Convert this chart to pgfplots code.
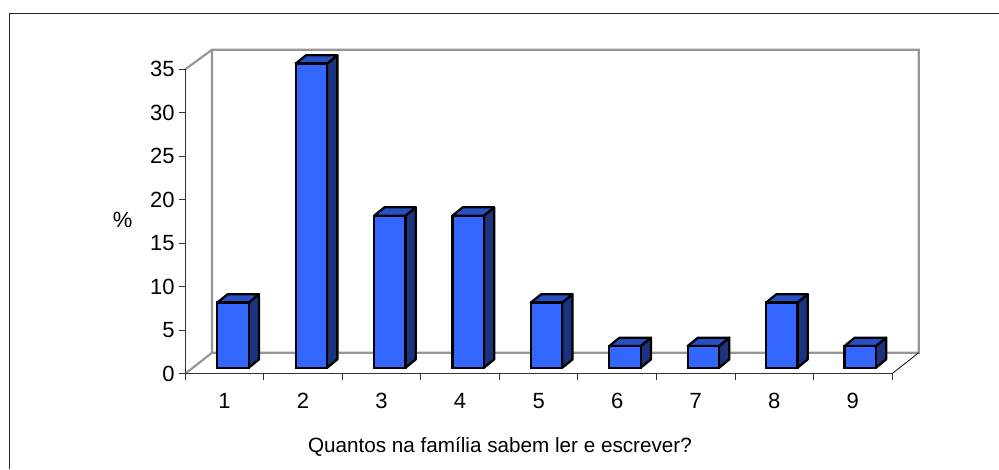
\documentclass[border=0pt]{standalone}
\usepackage{pgfplots}
\pgfplotsset{compat=1.18}
\usepackage{fontspec}
\setmainfont{Liberation Sans}
\definecolor{barfront}{HTML}{3366FF}
\definecolor{barside}{HTML}{1C3380}
\definecolor{bartop}{HTML}{284FC4}
\definecolor{wall}{HTML}{969696}
\begin{document}
\begin{tikzpicture}[x=0.75pt,y=-0.75pt]
\path[use as bounding box] (0,0) rectangle (999,469);
% chart frame
\draw[line width=1.1pt,black!85] (9.5,469) -- (9.5,13.3) -- (999,13.3);
% walls of the 3-D box
\draw[wall,line width=1.6pt] (185.3,69.3) -- (212,49.7) -- (918.7,49.7) -- (918.7,352.7) -- (212,352.7) -- (212,49.7);
\draw[wall,line width=1.6pt] (185.3,373.7) -- (212,352.7);
\draw[black,line width=0.6pt] (892,373.7) -- (918.7,352.7);
\begin{axis}[
  at={(138.975pt,-280.275pt)}, anchor=south west,
  scale only axis, width=530.0pt, height=228.3pt,
  xmin=0.5, xmax=9.5, ymin=0, ymax=35,
  axis x line=bottom, axis y line=left,
  axis line style={-, line width=0.8pt, black!80},
  xtick={0.5,1.5,...,9.5}, xticklabels={},
  extra x ticks={1,2,3,4,5,6,7,8,9},
  extra x tick style={major tick length=0pt, xticklabel style={yshift=-10.9pt},
    xticklabels={1,2,3,4,5,6,7,8,9}},
  ytick={0,5,...,35},
  tick style={black!80, line width=0.6pt},
  tick align=outside, major tick length=4.5pt,
  tick label style={font=\fontsize{16.5}{18}\selectfont},
  yticklabel style={xshift=0pt},
  /pgf/number format/assume math mode=true,
  xlabel={Quantos na família sabem ler e escrever?},
  xlabel style={font=\fontsize{15.5}{18}\selectfont, at={(axis description cs:0.5,0)}, anchor=base, yshift=-59pt, xshift=-29pt},
  ylabel={\%},
  ylabel style={font=\fontsize{16.5}{18}\selectfont, rotate=-90, at={(axis description cs:0,0.5)}, anchor=center, xshift=-47pt, yshift=1pt},
]
\end{axis}
\begin{axis}[
  at={(138.975pt,-275.775pt)}, anchor=south west,
  scale only axis, width=530.0pt, height=228.3pt,
  xmin=0.3916, xmax=9.4057, ymin=0, ymax=35.03,
  hide axis, clip=false,
]
\pgfplotsset{side/.style={fill=barside, draw=black, line width=1.7pt, line join=round, mark=none, sharp plot},
  topf/.style={fill=bartop, draw=black, line width=1.7pt, line join=round, mark=none, sharp plot}}
\addplot[side] coordinates {(1.2,0)(1.3314,.955)(1.3314,8.455)(1.2,7.5)} -- cycle;
\addplot[topf] coordinates {(.8,7.5)(1.2,7.5)(1.3314,8.455)(.9314,8.455)} -- cycle;
\addplot[side] coordinates {(2.2,0)(2.3314,.955)(2.3314,35.955)(2.2,35)} -- cycle;
\addplot[topf] coordinates {(1.8,35)(2.2,35)(2.3314,35.955)(1.9314,35.955)} -- cycle;
\addplot[side] coordinates {(3.2,0)(3.3314,.955)(3.3314,18.455)(3.2,17.5)} -- cycle;
\addplot[topf] coordinates {(2.8,17.5)(3.2,17.5)(3.3314,18.455)(2.9314,18.455)} -- cycle;
\addplot[side] coordinates {(4.2,0)(4.3314,.955)(4.3314,18.455)(4.2,17.5)} -- cycle;
\addplot[topf] coordinates {(3.8,17.5)(4.2,17.5)(4.3314,18.455)(3.9314,18.455)} -- cycle;
\addplot[side] coordinates {(5.2,0)(5.3314,.955)(5.3314,8.455)(5.2,7.5)} -- cycle;
\addplot[topf] coordinates {(4.8,7.5)(5.2,7.5)(5.3314,8.455)(4.9314,8.455)} -- cycle;
\addplot[side] coordinates {(6.2,0)(6.3314,.955)(6.3314,3.455)(6.2,2.5)} -- cycle;
\addplot[topf] coordinates {(5.8,2.5)(6.2,2.5)(6.3314,3.455)(5.9314,3.455)} -- cycle;
\addplot[side] coordinates {(7.2,0)(7.3314,.955)(7.3314,3.455)(7.2,2.5)} -- cycle;
\addplot[topf] coordinates {(6.8,2.5)(7.2,2.5)(7.3314,3.455)(6.9314,3.455)} -- cycle;
\addplot[side] coordinates {(8.2,0)(8.3314,.955)(8.3314,8.455)(8.2,7.5)} -- cycle;
\addplot[topf] coordinates {(7.8,7.5)(8.2,7.5)(8.3314,8.455)(7.9314,8.455)} -- cycle;
\addplot[side] coordinates {(9.2,0)(9.3314,.955)(9.3314,3.455)(9.2,2.5)} -- cycle;
\addplot[topf] coordinates {(8.8,2.5)(9.2,2.5)(9.3314,3.455)(8.9314,3.455)} -- cycle;
\addplot[ybar, bar width=0.4, bar shift=0pt, fill=barfront, draw=black, line width=1.7pt] coordinates
  {(1,7.5)(2,35)(3,17.5)(4,17.5)(5,7.5)(6,2.5)(7,2.5)(8,7.5)(9,2.5)};
\end{axis}
\end{tikzpicture}
\end{document}
